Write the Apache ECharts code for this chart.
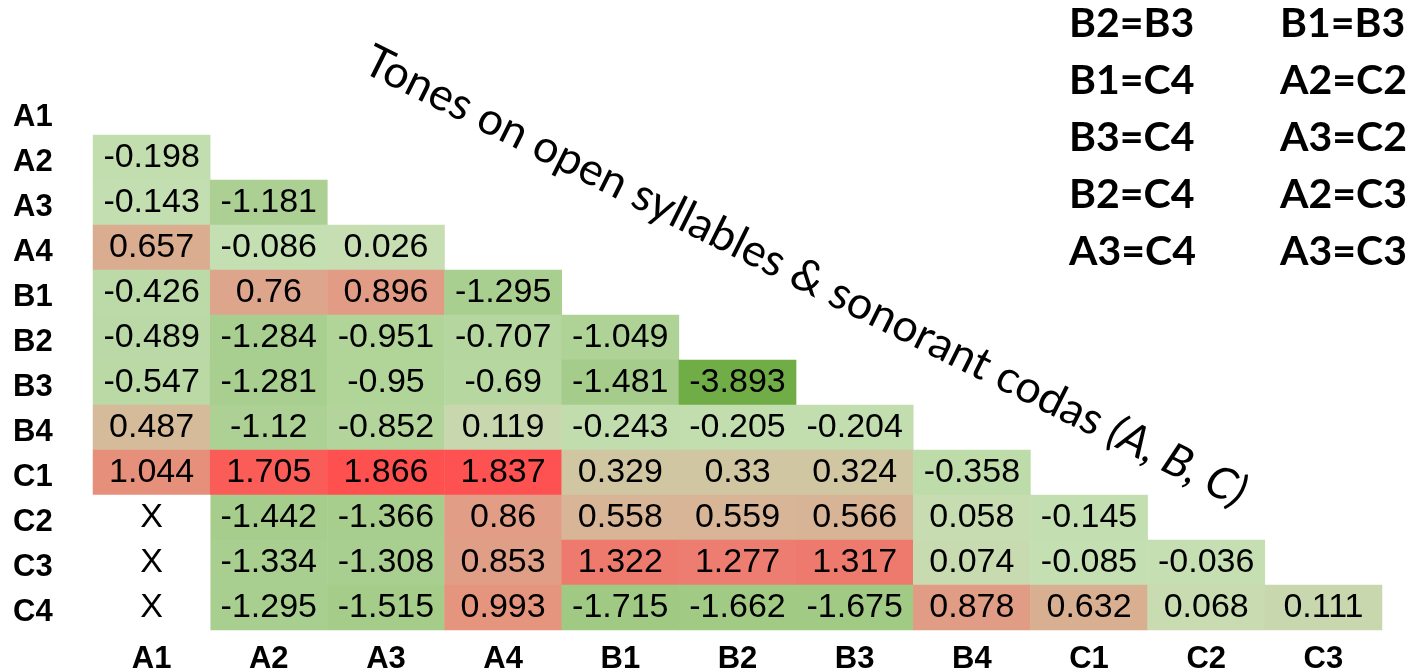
<!DOCTYPE html>
<html>
<head>
<meta charset="utf-8">
<script src="https://cdn.jsdelivr.net/npm/echarts@6/dist/echarts.min.js"></script>
<style>
  html, body { margin: 0; padding: 0; background: #fff; }
  #chart { width: 1416px; height: 671px; }
</style>
</head>
<body>
<div id="chart"></div>
<script>
// categories
var colLabels = ['A1', 'A2', 'A3', 'A4', 'B1', 'B2', 'B3', 'B4', 'C1', 'C2', 'C3'];
var rowLabels = ['A1', 'A2', 'A3', 'A4', 'B1', 'B2', 'B3', 'B4', 'C1', 'C2', 'C3', 'C4'];

// lower triangle, one list per row; null = "X" (no comparison)
var rowValues = [
    [],
    [-0.198],
    [-0.143, -1.181],
    [0.657, -0.086, 0.026],
    [-0.426, 0.76, 0.896, -1.295],
    [-0.489, -1.284, -0.951, -0.707, -1.049],
    [-0.547, -1.281, -0.95, -0.69, -1.481, -3.893],
    [0.487, -1.12, -0.852, 0.119, -0.243, -0.205, -0.204],
    [1.044, 1.705, 1.866, 1.837, 0.329, 0.33, 0.324, -0.358],
    [null, -1.442, -1.366, 0.86, 0.558, 0.559, 0.566, 0.058, -0.145],
    [null, -1.334, -1.308, 0.853, 1.322, 1.277, 1.317, 0.074, -0.085, -0.036],
    [null, -1.295, -1.515, 0.993, -1.715, -1.662, -1.675, 0.878, 0.632, 0.068, 0.111]
];

// non-significant pairs listed top right
var equalLeft = ['B2=B3', 'B1=C4', 'B3=C4', 'B2=C4', 'A3=C4'];
var equalRight = ['B1=B3', 'A2=C2', 'A3=C2', 'A2=C3', 'A3=C3'];

var titleMain = 'Tones on open syllables & sonorant codas ';
var titleTail = '(A, B, C)';

var cells = [];
var xCells = [];
rowValues.forEach(function (row, r) {
    row.forEach(function (v, c) {
        if (v === null) {
            xCells.push([c, r, 0]);
        } else {
            cells.push([c, r, v]);
        }
    });
});

/**
 * 3色刻度：绿 - 浅绿(0) - 红
 */
var green = [112, 173, 71], mid = [198, 224, 180], red = [255, 80, 80];
function mix(a, b, t) {
    return 'rgb(' + a.map(function (x, i) { return Math.round(x + (b[i] - x) * t); }).join(',') + ')';
}
var vMin = Math.min.apply(null, cells.map(function (d) { return d[2]; }));
var vMax = Math.max.apply(null, cells.map(function (d) { return d[2]; }));
var stops = [];
for (var i = 0; i <= 60; i++) {
    var v = vMin + (vMax - vMin) * i / 60;
    stops.push(v < 0 ? mix(green, mid, (v - vMin) / -vMin) : mix(mid, red, v / vMax));
}

var labelFont = 'Liberation Sans, Arial, sans-serif';
var graphics = [{
    type: 'text',
    x: 367,
    y: 58,
    rotation: -26.5 * Math.PI / 180,
    style: {
        text: '{n|' + titleMain + '}{i|' + titleTail + '}',
        align: 'left',
        verticalAlign: 'middle',
        rich: {
            n: { fontFamily: 'Lato', fontSize: 45, fill: '#000' },
            i: { fontFamily: 'Lato', fontSize: 45, fontStyle: 'italic', fill: '#000' }
        }
    }
}];
equalLeft.forEach(function (t, k) {
    [[1069, t], [1280, equalRight[k]]].forEach(function (p) {
        graphics.push({
            type: 'text',
            x: p[0],
            y: 24 + k * 57,
            style: {
                text: p[1],
                fontFamily: 'Lato',
                fontWeight: 'bold',
                fontSize: 41,
                fill: '#000',
                align: 'left',
                verticalAlign: 'middle'
            }
        });
    });
});

var option = {
    backgroundColor: '#fff',
    animation: false,
    grid: { left: 93, top: 90, right: 34, bottom: 41, containLabel: false, outerBoundsMode: 'none' },
    xAxis: {
        type: 'category',
        data: colLabels,
        axisLine: { show: false },
        axisTick: { show: false },
        splitLine: { show: false },
        axisLabel: { color: '#000', fontFamily: labelFont, fontWeight: 'bold', fontSize: 31, margin: 14 }
    },
    yAxis: {
        type: 'category',
        data: rowLabels,
        inverse: true,
        axisLine: { show: false },
        axisTick: { show: false },
        splitLine: { show: false },
        axisLabel: {
            color: '#000', fontFamily: labelFont, fontWeight: 'bold', fontSize: 31,
            align: 'left', margin: 80, verticalAlign: 'top', lineHeight: 10
        }
    },
    visualMap: {
        show: false,
        type: 'continuous',
        seriesIndex: 0,
        min: vMin,
        max: vMax,
        inRange: { color: stops }
    },
    graphic: graphics,
    series: [
        {
            type: 'heatmap',
            data: cells,
            label: {
                show: true,
                color: '#000',
                fontFamily: labelFont,
                fontSize: 34,
                formatter: function (p) { return String(p.value[2]); }
            },
            emphasis: { disabled: true }
        },
        {
            type: 'heatmap',
            data: xCells,
            itemStyle: { color: '#fff' },
            label: {
                show: true,
                color: '#000',
                fontFamily: labelFont,
                fontSize: 34,
                formatter: 'X'
            },
            emphasis: { disabled: true }
        }
    ]
};

var chart = echarts.init(document.getElementById('chart'));
chart.setOption(option);
</script>
</body>
</html>
